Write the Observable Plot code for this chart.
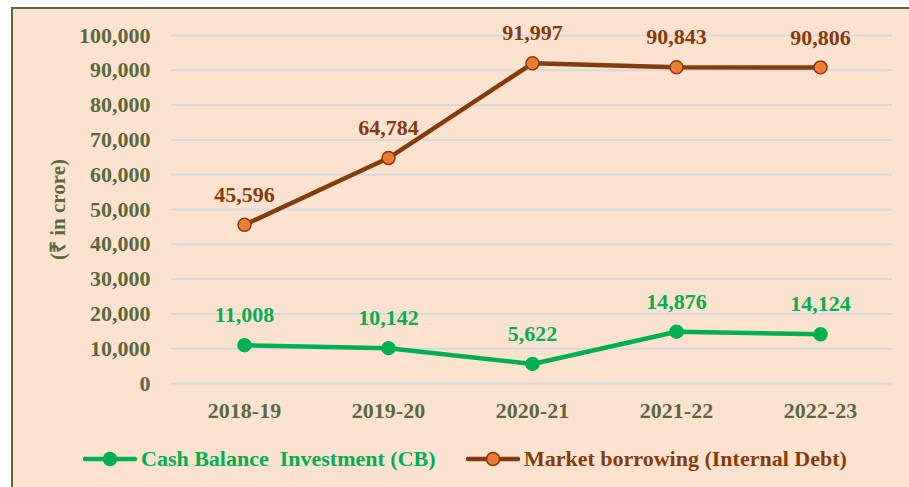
<!DOCTYPE html>
<html>
<head>
<meta charset="utf-8">
<script src="https://cdn.jsdelivr.net/npm/d3@7"></script>
<script src="https://cdn.jsdelivr.net/npm/@observablehq/plot@0.6"></script>
<style>
  html, body { margin: 0; padding: 0; background: #fff; width: 909px; height: 487px; overflow: hidden; }
  #frame { position: absolute; left: 11px; top: 7px; width: 940px; height: 520px;
    border: 2px solid #5B6B3F; background: #FDE2D0; }
  #chart { position: absolute; left: 0; top: 0; }
  #legend { position: absolute; left: 0; top: 444px; width: 909px; height: 30px;
    font-family: "Liberation Serif", "Times New Roman", serif; font-weight: bold; font-size: 22px; }
  .item { position: absolute; top: 0; display: flex; align-items: center; height: 30px; white-space: pre; }
  .item svg { margin-right: 4px; }
</style>
</head>
<body>
<div id="frame"></div>
<div id="chart"></div>
<div id="legend"></div>
<script>
const years = ["2018-19", "2019-20", "2020-21", "2021-22", "2022-23"];
const cashBalance = [11008, 10142, 5622, 14876, 14124];
const marketBorrowing = [45596, 64784, 91997, 90843, 90806];
const yTicks = [0, 10000, 20000, 30000, 40000, 50000, 60000, 70000, 80000, 90000, 100000];
const seriesNames = ["Cash Balance  Investment (CB)", "Market borrowing (Internal Debt)"];
const yLabel = "(₹ in crore)";

const green = "#00B050";
const brown = "#843C0C";
const orange = "#ED7D31";
const axisColor = "#5A6A3E";
const font = '"Liberation Serif", "Times New Roman", serif';

const cb = years.map((y, i) => ({year: y, value: cashBalance[i]}));
const mb = years.map((y, i) => ({year: y, value: marketBorrowing[i]}));
const fmt = d3.format(",");

const chart = Plot.plot({
  width: 909,
  height: 430,
  marginLeft: 171,
  marginRight: 17,
  marginTop: 35,
  marginBottom: 47,
  style: {background: "transparent", fontFamily: font, fontWeight: "bold", fontSize: "22px", color: axisColor, overflow: "visible"},
  x: {type: "point", domain: years, padding: 0.5, label: null},
  y: {domain: [0, 100000], label: null},
  marks: [
    Plot.gridY(yTicks, {stroke: "#D9D9DC", strokeOpacity: 1, strokeWidth: 2}),
    Plot.axisY(yTicks, {tickSize: 0, tickPadding: 21, tickFormat: fmt, fill: axisColor, fontSize: 22, fontWeight: "bold"}),
    Plot.axisX({tickSize: 0, tickPadding: 19, fill: axisColor, fontSize: 22, fontWeight: "bold"}),
    Plot.text([yLabel], {frameAnchor: "left", dx: -113, rotate: -90, fill: axisColor, fontSize: 21, fontWeight: "bold", textAnchor: "middle"}),
    Plot.line(cb, {x: "year", y: "value", stroke: green, strokeWidth: 4.5}),
    Plot.dot(cb, {x: "year", y: "value", r: 6.5, fill: green, stroke: green}),
    Plot.text(cb, {x: "year", y: "value", text: d => fmt(d.value), dy: -30, fill: green, fontSize: 22, fontWeight: "bold", lineAnchor: "middle"}),
    Plot.line(mb, {x: "year", y: "value", stroke: brown, strokeWidth: 4.5}),
    Plot.dot(mb, {x: "year", y: "value", r: 6.5, fill: orange, stroke: brown, strokeWidth: 1.5}),
    Plot.text(mb, {x: "year", y: "value", text: d => fmt(d.value), dy: -30, fill: brown, fontSize: 22, fontWeight: "bold", lineAnchor: "middle"})
  ]
});
document.getElementById("chart").appendChild(chart);

const legend = document.getElementById("legend");
const items = [
  {name: seriesNames[0], color: green, fill: green, left: 83},
  {name: seriesNames[1], color: brown, fill: orange, left: 466}
];
for (const it of items) {
  const div = document.createElement("div");
  div.className = "item";
  div.style.left = it.left + "px";
  div.style.color = it.color;
  div.innerHTML = `<svg width="54" height="20"><line x1="2" y1="10" x2="52" y2="10" stroke="${it.color}" stroke-width="4.5" stroke-linecap="round"/><circle cx="27" cy="10" r="6.5" fill="${it.fill}" stroke="${it.color}" stroke-width="1.5"/></svg>`;
  const span = document.createElement("span");
  span.textContent = it.name;
  div.appendChild(span);
  legend.appendChild(div);
}
</script>
</body>
</html>
